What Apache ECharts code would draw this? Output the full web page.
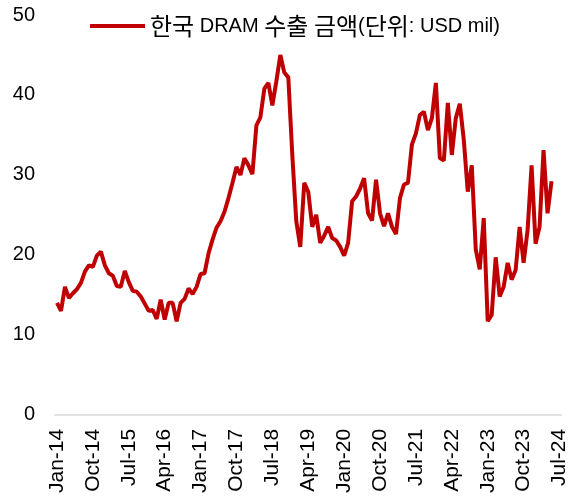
<!DOCTYPE html>
<html>
<head>
<meta charset="utf-8">
<script src="https://cdn.jsdelivr.net/npm/echarts@6/dist/echarts.min.js"></script>
<style>
  html, body { margin: 0; padding: 0; background: #fff; }
  #chart { width: 570px; height: 496px; }
</style>
</head>
<body>
<div id="chart"></div>
<script>
// 월 라벨 Jan-14 ~ Jul-24
var monNames = ['Jan','Feb','Mar','Apr','May','Jun','Jul','Aug','Sep','Oct','Nov','Dec'];
var startYear = 14, endYear = 24, endMonth = 7;
var months = [];
for (var y = startYear; y <= endYear; y++) {
    for (var m = 0; m < 12; m++) {
        if (y == endYear && m >= endMonth) break;
        months.push(monNames[m] + '-' + y);
    }
}

var seriesName = '한국 DRAM 수출 금액(단위: USD mil)';

// 2014 ~ 2018
var exp14_18 = [
    14.0, 13.0, 16.0, 14.6, 15.2, 15.7, 16.5, 17.9, 18.7, 18.5, 19.9, 20.4,
    18.7, 17.7, 17.4, 16.1, 16.0, 18.0, 16.6, 15.5, 15.4, 14.8, 13.9, 13.0,
    13.1, 12.0, 14.4, 11.9, 14.0, 14.0, 11.7, 14.0, 14.5, 15.8, 15.1, 16.0,
    17.6, 17.7, 20.2, 21.9, 23.4, 24.2, 25.4, 27.1, 29.0, 31.0, 30.0, 32.1,
    31.2, 30.1, 36.2, 37.2, 40.8, 41.5, 38.7, 41.7, 45.0, 42.8, 42.2, 32.5
];
// 2019 ~ 2024.05
var exp19_24 = [
    24.2, 21.0, 29.0, 27.9, 23.5, 25.0, 21.5, 22.4, 23.5, 22.1, 21.8, 21.0,
    19.9, 21.5, 26.7, 27.3, 28.3, 29.6, 25.2, 24.3, 29.4, 25.2, 23.6, 25.2,
    23.5, 22.6, 27.1, 28.8, 29.0, 33.8, 35.2, 37.5, 37.9, 35.6, 37.1, 41.5,
    32.1, 31.8, 39.0, 32.5, 37.1, 38.9, 34.4, 27.9, 31.2, 20.7, 18.2, 24.6,
    11.7, 12.5, 19.7, 14.8, 16.0, 19.0, 16.9, 18.1, 23.5, 19.0, 23.1, 31.2,
    21.4, 23.5, 33.1, 25.2, 29.2
];
var exportValues = exp14_18.concat(exp19_24);

var yTicks = { min: 0, max: 50, interval: 10 };

var fontFam = '"Liberation Sans", Arial, "Noto Sans CJK KR", sans-serif';
var krFam = '"Noto Sans CJK KR", sans-serif';

// 한글은 조금 크게 (원본 맑은 고딕 폭 맞춤)
function legendFmt(name) {
    return name.replace(/([가-힣]+)/g, '{k|$1}');
}

var myChart = echarts.init(document.getElementById('chart'));
var option = {
    animation: false,
    textStyle: { fontFamily: fontFam },
    legend: {
        data: [seriesName],
        left: 85,
        top: 9,
        icon: 'rect',
        itemWidth: 55,
        itemHeight: 4,
        itemGap: 5,
        formatter: legendFmt,
        textStyle: {
            fontSize: 20, color: '#000', fontFamily: fontFam,
            rich: { k: { fontSize: 24, color: '#000', fontFamily: krFam } }
        }
    },
    grid: { left: 55, right: 8, top: 15, bottom: 81 },
    xAxis: {
        type: 'category',
        data: months,
        boundaryGap: true,
        axisLine: { lineStyle: { color: '#D9D9D9', width: 1.5 } },
        axisTick: { show: false },
        axisLabel: {
            interval: 8,
            rotate: 90,
            margin: 14,
            fontSize: 21,
            color: '#000',
            fontFamily: fontFam
        }
    },
    yAxis: {
        type: 'value',
        min: yTicks.min,
        max: yTicks.max,
        interval: yTicks.interval,
        axisLine: { show: false },
        axisTick: { show: false },
        splitLine: { show: false },
        axisLabel: { margin: 20, fontSize: 20, color: '#000', fontFamily: fontFam }
    },
    series: [{
        name: seriesName,
        type: 'line',
        data: exportValues,
        showSymbol: false,
        symbol: 'none',
        lineStyle: { color: '#C00000', width: 4 },
        itemStyle: { color: '#C00000' }
    }]
};
myChart.setOption(option);
</script>
</body>
</html>
